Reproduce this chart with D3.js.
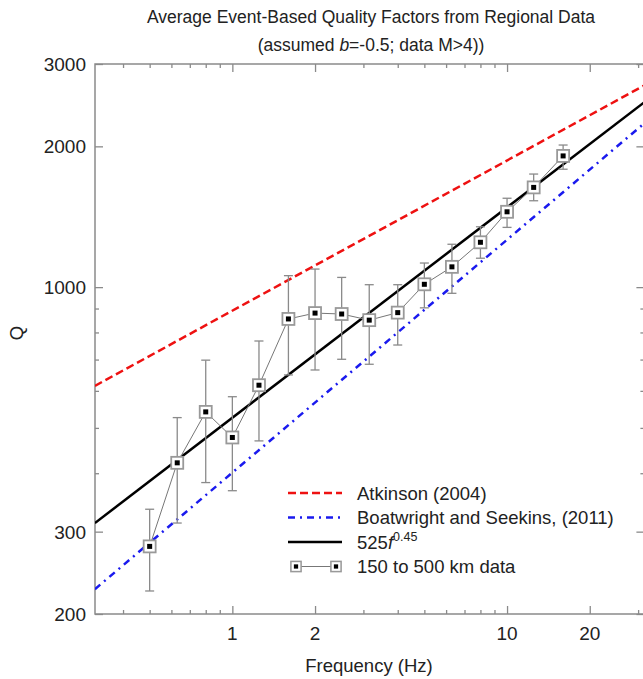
<!DOCTYPE html>
<html>
<head>
<meta charset="utf-8">
<script src="https://cdn.jsdelivr.net/npm/d3@7"></script>
<style>
  body { margin: 0; background: #fff; }
  svg text { font-family: "Liberation Sans", Arial, sans-serif; fill: #222; }
</style>
</head>
<body>
<div id="app"></div>
<script>
'use strict'

// Measured data: 150 to 500 km
const freqs = [0.5, 0.63, 0.8, 1.0, 1.25, 1.6, 2.0, 2.5, 3.15, 4.0, 5.0, 6.3, 8.0, 10.0, 12.5, 16.0];
const qMean = [279, 421, 541, 477, 617, 855, 880, 876, 850, 882, 1014, 1105, 1247, 1449, 1634, 1908];
const qHigh = [335, 526, 698, 583, 767, 1058, 1093, 1049, 1012, 1012, 1126, 1235, 1346, 1549, 1745, 2013];
const qLow = [224, 313, 382, 367, 469, 649, 665, 701, 684, 752, 903, 970, 1153, 1342, 1530, 1787];

// Model lines, end points read at the edges of the frame
const lineFreqs = [0.316, 31.6];
const atkinsonQ = [615, 2700];
const boatwrightQ = [226, 2240];
const fitQ = [313, 2485];

const xMajor = [1, 2, 10, 20];
const xMinor = [0.4, 0.5, 0.6, 0.7, 0.8, 0.9, 3, 4, 5, 6, 7, 8, 9, 30];
const yMajor = [200, 300, 1000, 2000, 3000];
const yMinor = [400, 500, 600, 700, 800, 900];

const legendLabels = ['Atkinson (2004)', 'Boatwright and Seekins, (2011)', '525f0.45', '150 to 500 km data'];

const width = 643;
const height = 679;
const pLeft = 95, pRight = 644.4, pTop = 64, pBottom = 614;
const grey = '#8a8a8a';

let svg = (
  d3.select('#app')
    .append('svg')
    .attr('width', width)
    .attr('height', height));

let x = d3.scaleLog().domain([Math.pow(10, -0.5), Math.pow(10, 1.5)]).range([pLeft, pRight]);
let y = d3.scaleLog().domain([200, 3000]).range([pBottom, pTop]);

// Titles
(svg.append('text')
  .attr('x', 371).attr('y', 23)
  .attr('text-anchor', 'middle')
  .style('font-size', '17.5px')
  .text('Average Event-Based Quality Factors from Regional Data'));
let sub = (svg.append('text')
  .attr('x', 371).attr('y', 51)
  .attr('text-anchor', 'middle')
  .style('font-size', '17.5px'));
sub.append('tspan').text('(assumed ');
sub.append('tspan').style('font-style', 'italic').text('b');
sub.append('tspan').text('=-0.5; data M>4))');

// Axes: frame plus inward ticks on all four sides
let drawAxis = (axis, ticks, size, tr) => {
  let g = (svg.append('g')
    .attr('transform', tr)
    .call(axis.tickValues(ticks).tickSize(size).tickFormat(d3.format('d'))));
  g.select('.domain').remove();
  g.selectAll('text').remove();
  g.selectAll('line').attr('stroke', grey).attr('stroke-width', 1.3);
  return g;
};

drawAxis(d3.axisTop(x), xMajor, 8, `translate(0,${pBottom})`);
drawAxis(d3.axisTop(x), xMinor, 4, `translate(0,${pBottom})`);
drawAxis(d3.axisBottom(x), xMajor, 8, `translate(0,${pTop})`);
drawAxis(d3.axisBottom(x), xMinor, 4, `translate(0,${pTop})`);
drawAxis(d3.axisRight(y), yMajor, 8, `translate(${pLeft},0)`);
drawAxis(d3.axisRight(y), yMinor, 4, `translate(${pLeft},0)`);
drawAxis(d3.axisLeft(y), yMajor, 8, `translate(${pRight},0)`);
drawAxis(d3.axisLeft(y), yMinor, 4, `translate(${pRight},0)`);

(svg.append('rect')
  .attr('x', pLeft).attr('y', pTop)
  .attr('width', pRight - pLeft).attr('height', pBottom - pTop)
  .attr('fill', 'none')
  .attr('stroke', grey)
  .attr('stroke-width', 1.5));

// Tick labels
(svg.selectAll('whatever')
    .data(xMajor)
  .enter()
    .append('text')
      .attr('x', (d) => x(d))
      .attr('y', 640)
      .attr('text-anchor', 'middle')
      .style('font-size', '19px')
      .text((d) => d));
(svg.selectAll('whatever')
    .data(yMajor)
  .enter()
    .append('text')
      .attr('x', 86)
      .attr('y', (d) => y(d) + 7)
      .attr('text-anchor', 'end')
      .style('font-size', '19px')
      .text((d) => d));

// Axis titles
(svg.append('text')
  .attr('x', 369).attr('y', 672)
  .attr('text-anchor', 'middle')
  .style('font-size', '18.5px')
  .text('Frequency (Hz)'));
(svg.append('text')
  .attr('transform', 'translate(23,333) rotate(-90)')
  .attr('text-anchor', 'middle')
  .style('font-size', '18.5px')
  .text('Q'));

// Model lines
svg.append('clipPath').attr('id', 'clip')
  .append('rect').attr('x', pLeft).attr('y', pTop)
  .attr('width', pRight - pLeft).attr('height', pBottom - pTop);

let line = d3.line().x((d) => x(d[0])).y((d) => y(d[1]));
let models = [
  {q: atkinsonQ, color: '#ee1111', dash: '8,4'},
  {q: boatwrightQ, color: '#1a1aee', dash: '7,5,2,5'},
  {q: fitQ, color: '#000', dash: null},
];
(svg.append('g').attr('clip-path', 'url(#clip)')
  .selectAll('path')
    .data(models)
  .enter()
    .append('path')
      .attr('d', (d) => line(d3.zip(lineFreqs, d.q)))
      .attr('fill', 'none')
      .attr('stroke', (d) => d.color)
      .attr('stroke-width', 2.5)
      .attr('stroke-dasharray', (d) => d.dash));

// Error bars
let pts = freqs.map((f, i) => ({f: f, q: qMean[i], hi: qHigh[i], lo: qLow[i]}));
let eb = svg.append('g').attr('stroke', grey).attr('stroke-width', 1.3);
(eb.selectAll('whatever')
    .data(pts)
  .enter()
    .append('line')
      .attr('x1', (d) => x(d.f)).attr('x2', (d) => x(d.f))
      .attr('y1', (d) => y(d.hi)).attr('y2', (d) => y(d.lo)));
for (let key of ['hi', 'lo']) {
  (eb.selectAll('whatever')
      .data(pts)
    .enter()
      .append('line')
        .attr('x1', (d) => x(d.f) - 4.5).attr('x2', (d) => x(d.f) + 4.5)
        .attr('y1', (d) => y(d[key])).attr('y2', (d) => y(d[key])));
}

// Data line and markers
(svg.append('path')
  .attr('d', d3.line().x((d) => x(d.f)).y((d) => y(d.q))(pts))
  .attr('fill', 'none')
  .attr('stroke', '#777')
  .attr('stroke-width', 1));

let drawMarker = (g) => {
  g.append('rect')
    .attr('x', -6).attr('y', -6).attr('width', 12).attr('height', 12)
    .attr('fill', '#fff').attr('stroke', '#999').attr('stroke-width', 1.8);
  g.append('rect')
    .attr('x', -2.5).attr('y', -2.5).attr('width', 5).attr('height', 5)
    .attr('fill', '#000');
};
(svg.selectAll('whatever')
    .data(pts)
  .enter()
    .append('g')
      .attr('transform', (d) => `translate(${x(d.f)},${y(d.q)})`)
      .each(function() { drawMarker(d3.select(this)); }));

// Legend
let lg = svg.append('g').attr('transform', 'translate(288,493)');
let rowH = 24.5;
models.forEach((m, i) => {
  (lg.append('line')
    .attr('x1', 0).attr('x2', 54)
    .attr('y1', i * rowH).attr('y2', i * rowH)
    .attr('stroke', m.color)
    .attr('stroke-width', 2.5)
    .attr('stroke-dasharray', m.dash));
});
(lg.append('line')
  .attr('x1', 8).attr('x2', 48)
  .attr('y1', 3 * rowH).attr('y2', 3 * rowH)
  .attr('stroke', '#777').attr('stroke-width', 1));
for (let mx of [8, 48]) {
  let g = lg.append('g').attr('transform', `translate(${mx},${3 * rowH}) scale(0.85)`);
  drawMarker(g);
}
legendLabels.forEach((label, i) => {
  let t = (lg.append('text')
    .attr('x', 69)
    .attr('y', i * rowH + 6.5)
    .style('font-size', '18.5px'));
  if (i == 2) {
    t.append('tspan').text('525');
    t.append('tspan').style('font-style', 'italic').text('f');
    t.append('tspan').attr('dy', -8).style('font-size', '12.5px').text('0.45');
  } else {
    t.text(label);
  }
});
</script>
</body>
</html>
